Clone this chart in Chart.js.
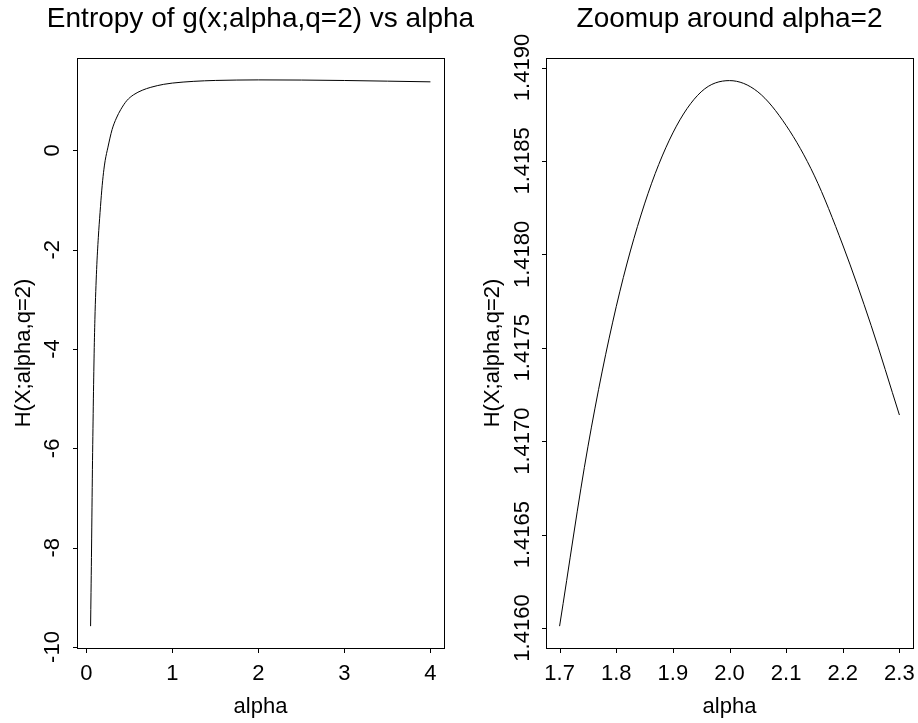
<!DOCTYPE html>
<html>
<head>
<meta charset="utf-8">
<script src="https://cdn.jsdelivr.net/npm/chart.js@4.4.0/dist/chart.umd.min.js"></script>
<style>
  html, body { margin: 0; padding: 0; background: #fff; }
  #wrap { position: relative; width: 918px; height: 723px; }
  canvas { position: absolute; top: 0; left: 0; }
</style>
</head>
<body>
<div id="wrap">
  <canvas id="left" width="918" height="723"></canvas>
  <canvas id="right" width="918" height="723"></canvas>
</div>
<script>
// left panel: entropy over the whole alpha range
var alphaAll = [0.05, 0.055, 0.06, 0.065, 0.07, 0.08, 0.09, 0.1, 0.12, 0.14, 0.16, 0.18, 0.2, 0.22, 0.25,
                0.3, 0.35, 0.4, 0.47, 0.55, 0.65, 0.75, 0.9, 1.0, 1.25, 1.5, 1.75, 2.0, 2.5, 3.0, 3.5, 4.0];
var entropyAll = [-9.58, -8.9, -8.2, -7.4, -6.6, -5.3, -4.2, -3.4, -2.4, -1.75, -1.25, -0.8, -0.45, -0.2, 0.05,
                  0.42, 0.65, 0.82, 1.0, 1.12, 1.21, 1.27, 1.33, 1.355, 1.39, 1.408, 1.416, 1.419, 1.416, 1.407, 1.394, 1.38];
var leftXTicks = [0, 1, 2, 3, 4];
var leftXLabels = ['0', '1', '2', '3', '4'];
var leftYTicks = [-10, -8, -6, -4, -2, 0];
var leftYLabels = ['-10', '-8', '-6', '-4', '-2', '0'];

// right panel: zoom around alpha = 2
var alphaZoom = [1.70, 1.75, 1.80, 1.85, 1.90, 1.95, 2.00, 2.05, 2.10, 2.15, 2.20, 2.25, 2.30];
var entropyZoom = [1.41601, 1.41697, 1.41772, 1.41827, 1.41865, 1.41887, 1.41893, 1.41887, 1.41869, 1.41842,
                   1.41805, 1.41762, 1.41714];
var rightXTicks = [1.7, 1.8, 1.9, 2.0, 2.1, 2.2, 2.3];
var rightXLabels = ['1.7', '1.8', '1.9', '2.0', '2.1', '2.2', '2.3'];
var rightYTicks = [1.416, 1.4165, 1.417, 1.4175, 1.418, 1.4185, 1.419];
var rightYLabels = ['1.4160', '1.4165', '1.4170', '1.4175', '1.4180', '1.4185', '1.4190'];

var FONT = '"Liberation Sans", Arial, Helvetica, sans-serif';

// R-style frame: box, outward ticks, tick labels, titles
var rFrame = {
  id: 'rFrame',
  afterDraw: function(chart, args, opts) {
    var ctx = chart.ctx, a = chart.chartArea;
    var x = chart.scales.x, y = chart.scales.y;
    ctx.save();
    ctx.strokeStyle = '#000';
    ctx.lineWidth = 1;
    ctx.strokeRect(Math.round(a.left) + 0.5, Math.round(a.top) + 0.5,
                   Math.round(a.right - a.left), Math.round(a.bottom - a.top));
    ctx.beginPath();
    x.ticks.forEach(function(t) {
      var px = Math.round(x.getPixelForValue(t.value)) + 0.5;
      ctx.moveTo(px, Math.round(a.bottom) + 0.5);
      ctx.lineTo(px, Math.round(a.bottom) + 5);
    });
    y.ticks.forEach(function(t) {
      var py = Math.round(y.getPixelForValue(t.value)) + 0.5;
      ctx.moveTo(Math.round(a.left) + 0.5, py);
      ctx.lineTo(Math.round(a.left) - 4, py);
    });
    ctx.stroke();

    ctx.fillStyle = '#000';
    ctx.textAlign = 'center';
    ctx.textBaseline = 'middle';
    ctx.font = '22px ' + FONT;
    x.ticks.forEach(function(t) {
      ctx.fillText(t.label, x.getPixelForValue(t.value), opts.xTickY);
    });
    y.ticks.forEach(function(t) {
      ctx.save();
      ctx.translate(opts.yTickX, y.getPixelForValue(t.value));
      ctx.rotate(-Math.PI / 2);
      ctx.fillText(t.label, 0, 0);
      ctx.restore();
    });

    ctx.save();
    ctx.translate(opts.yTitleX, (a.top + a.bottom) / 2);
    ctx.rotate(-Math.PI / 2);
    ctx.fillText(opts.yTitle, 0, 0);
    ctx.restore();

    ctx.textBaseline = 'alphabetic';
    ctx.fillText(opts.xTitle, (a.left + a.right) / 2, opts.xTitleY);

    ctx.font = '28px ' + FONT;
    ctx.fillText(opts.title, (a.left + a.right) / 2, opts.titleY);
    ctx.restore();
  }
};

function makeChart(id, xs, ys, xr, yr, xTicks, xLabels, yTicks, yLabels, pad, frame) {
  var data = xs.map(function(v, i) { return {x: v, y: ys[i]}; });
  return new Chart(document.getElementById(id), {
    type: 'scatter',
    data: {
      datasets: [{
        data: data,
        showLine: true,
        borderColor: '#000',
        borderWidth: 1,
        pointRadius: 0,
        cubicInterpolationMode: 'monotone'
      }]
    },
    options: {
      responsive: false,
      animation: false,
      devicePixelRatio: 1,
      layout: { padding: pad },
      plugins: {
        legend: { display: false },
        tooltip: { enabled: false },
        rFrame: frame
      },
      scales: {
        x: {
          type: 'linear',
          min: xr[0],
          max: xr[1],
          grid: { display: false, drawTicks: false },
          border: { display: false },
          afterBuildTicks: function(scale) {
            scale.ticks = xTicks.map(function(v) { return {value: v}; });
          },
          afterFit: function(scale) { scale.height = 0; },
          ticks: {
            display: false,
            autoSkip: false,
            callback: function(v, i) { return xLabels[i]; }
          }
        },
        y: {
          type: 'linear',
          min: yr[0],
          max: yr[1],
          grid: { display: false, drawTicks: false },
          border: { display: false },
          afterBuildTicks: function(scale) {
            scale.ticks = yTicks.map(function(v) { return {value: v}; });
          },
          afterFit: function(scale) { scale.width = 0; },
          ticks: {
            display: false,
            autoSkip: false,
            callback: function(v, i) { return yLabels[i]; }
          }
        }
      }
    },
    plugins: [rFrame]
  });
}

makeChart('left', alphaAll, entropyAll, [-0.108, 4.158], [-10.02, 1.86],
  leftXTicks, leftXLabels, leftYTicks, leftYLabels,
  { left: 77, right: 474, top: 58, bottom: 75 },
  { title: 'Entropy of g(x;alpha,q=2) vs alpha', xTitle: 'alpha', yTitle: 'H(X;alpha,q=2)',
    titleY: 27, xTickY: 674, xTitleY: 713, yTitleX: 24, yTickX: 53 });

makeChart('right', alphaZoom, entropyZoom, [1.676, 2.324], [1.415893, 1.419051],
  rightXTicks, rightXLabels, rightYTicks, rightYLabels,
  { left: 546, right: 5, top: 58, bottom: 75 },
  { title: 'Zoomup around alpha=2', xTitle: 'alpha', yTitle: 'H(X;alpha,q=2)',
    titleY: 27, xTickY: 674, xTitleY: 713, yTitleX: 493, yTickX: 523 });
</script>
</body>
</html>
